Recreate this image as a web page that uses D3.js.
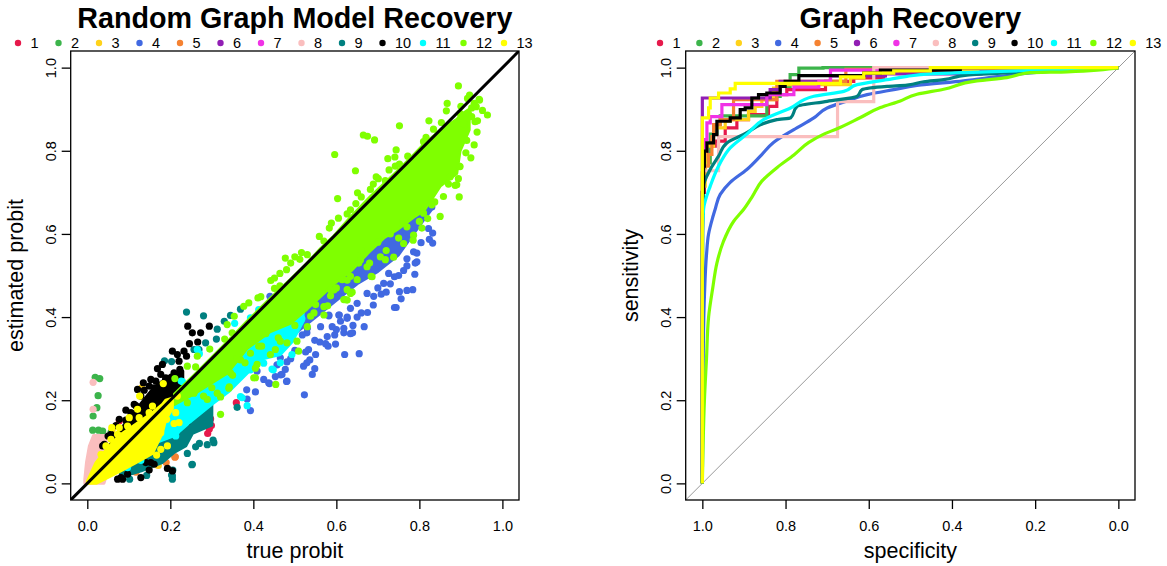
<!DOCTYPE html>
<html>
<head>
<meta charset="utf-8">
<script src="https://d3js.org/d3.v7.min.js"></script>
<style>
  body { margin: 0; background: #fff; }
  text { font-family: "Liberation Sans", Arial, sans-serif; fill: #000; }
</style>
</head>
<body>
<script>
// legend
var labels = ["1","2","3","4","5","6","7","8","9","10","11","12","13"];
var colors = ["#E6194B","#3CB44B","#FFD21A","#4169E1","#F58231","#911EB4","#F032E6","#FABEBE","#008080","#000000","#00FFFF","#7FFF00","#FFFF00"];
var ticks = [0, 0.2, 0.4, 0.6, 0.8, 1.0];

// scatter: [true, estimated]
var pts1 = [[.359,.194],[.297,.155],[.299,.139],[.294,.131],[.077,.15],[.16,.05],[.29,.12]];
var pts2 = [[.019,.255],[.03,.252],[.026,.211],[.023,.182],[.014,.162],[.013,.128],[.027,.128],[.037,.126],[.057,.122]];
var pts3 = [[.131,.23],[.171,.043],[.06,.13],[.145,.045]];
var pts4 = [[.83,.665],[.832,.602],[.822,.613],[.832,.578],[.824,.587],[.804,.579],[.794,.554],[.786,.557],[.794,.533],[.79,.53],[.77,.523],[.762,.512],[.789,.503],[.74,.497],[.752,.461],[.77,.464],[.784,.466],[.756,.444],[.744,.423],[.74,.423],[.708,.455],[.689,.429],[.675,.411],[.626,.4],[.606,.405],[.582,.403],[.726,.505],[.714,.481],[.674,.457],[.65,.433],[.634,.421],[.521,.282],[.529,.29],[.523,.213],[.481,.246],[.437,.242],[.425,.25],[.393,.175],[.385,.203],[.409,.27],[.465,.302],[.533,.322],[.529,.362],[.509,.394],[.62,.31],[.667,.377],[.639,.362],[.596,.357],[.536,.297],[.466,.261],[.58,.33],[.6,.37],[.56,.34],[.48,.245],[.439,.24],[.405,.22],[.384,.225],[.453,.257],[.469,.262],[.481,.292],[.542,.262],[.548,.276],[.526,.316],[.548,.344],[.574,.336],[.598,.335],[.578,.353],[.59,.377],[.562,.377],[.618,.362],[.634,.36],[.618,.373],[.655,.312],[.607,.405],[.626,.397],[.65,.4],[.582,.405],[.44,.45],[.518,.357],[.53,.373],[.477,.274],[.457,.285],[.64,.38],[.66,.41],[.69,.45],[.7,.47],[.72,.46],[.73,.48],[.75,.5],[.77,.54],[.61,.39],[.5,.32],[.49,.3],[.55,.31]];
var pts5 = [[.211,.063],[.117,.027],[.19,.05],[.212,.064]];
var pts8 = [[.014,.243],[.014,.178]];
var pts9 = [[.252,.045],[.206,.032],[.203,.02],[.205,.01],[.143,.019],[.102,.01],[.241,.072],[.261,.088],[.27,.096],[.289,.093],[.303,.104],[.305,.098],[.239,.412],[.28,.403],[.313,.371],[.345,.404],[.369,.419],[.285,.338],[.311,.347],[.186,.295],[.203,.293],[.269,.322],[.361,.183],[.257,.322],[.33,.39],[.205,.018],[.253,.046],[.097,.022]];
var pts10 = [[.242,.378],[.294,.378],[.253,.362],[.273,.362],[.246,.336],[.266,.34],[.205,.318],[.217,.31],[.233,.318],[.239,.306],[.221,.294],[.181,.286],[.169,.276],[.223,.274],[.209,.266],[.135,.242],[.153,.25],[.177,.262],[.189,.254],[.137,.224],[.161,.23],[.177,.222],[.193,.238],[.153,.206],[.185,.206],[.093,.176],[.117,.187],[.153,.186],[.169,.174],[.129,.166],[.069,.139],[.093,.152],[.05,.114],[.037,.09],[.141,.05],[.153,.05],[.193,.036],[.129,.014],[.081,.014],[.097,.022],[.149,.032],[.241,.148],[.073,.01],[.121,.226],[.129,.21],[.149,.234],[.165,.246],[.113,.19],[.105,.17],[.077,.154],[.041,.094],[.057,.118],[.189,.25],[.205,.25],[.173,.218],[.085,.01],[.205,.03],[.161,.046]];
var pts11 = [[.385,.187],[.373,.206],[.445,.275],[.213,.114],[.215,.126],[.27,.312],[.226,.246],[.393,.398],[.129,.055],[.097,.038],[.449,.358],[.517,.396],[.355,.385],[.265,.322],[.229,.245],[.413,.418],[.369,.209],[.448,.273],[.465,.29],[.493,.31],[.425,.289],[.393,.273]];
var pts12 = [[.894,.956],[.921,.934],[.916,.926],[.944,.924],[.932,.914],[.867,.914],[.9,.907],[.865,.896],[.952,.897],[.964,.886],[.926,.903],[.823,.872],[.752,.86],[.853,.868],[.94,.872],[.834,.852],[.939,.845],[.665,.838],[.675,.835],[.692,.826],[.816,.832],[.81,.822],[.596,.791],[.744,.802],[.724,.781],[.741,.785],[.772,.787],[.924,.783],[.932,.814],[.912,.795],[.896,.763],[.646,.752],[.727,.754],[.742,.763],[.752,.768],[.696,.737],[.701,.733],[.718,.728],[.689,.72],[.682,.707],[.651,.699],[.66,.689],[.603,.685],[.896,.689],[.647,.673],[.634,.658],[.626,.648],[.605,.638],[.85,.642],[.588,.626],[.583,.614],[.559,.594],[.57,.583],[.516,.555],[.5,.545],[.53,.55],[.477,.542],[.512,.539],[.49,.53],[.48,.514],[.464,.505],[.451,.494],[.442,.488],[.451,.469],[.464,.475],[.418,.449],[.411,.446],[.89,.718],[.858,.69],[.837,.677],[.806,.614],[.786,.597],[.785,.585],[.738,.544],[.718,.538],[.684,.498],[.626,.466],[.586,.466],[.586,.451],[.622,.442],[.579,.427],[.538,.402],[.454,.238],[.509,.318],[.505,.342],[.465,.342],[.481,.338],[.409,.286],[.401,.254],[.342,.232],[.321,.166],[.321,.208],[.289,.202],[.241,.194],[.265,.306],[.241,.282],[.261,.28],[.211,.252],[.295,.323],[.331,.347],[.349,.362],[.337,.382],[.354,.402],[.377,.426],[.389,.434],
  [.914,.825],[.918,.89],[.934,.87],[.945,.922],[.937,.906],[.926,.882],[.906,.865],[.898,.89],[.898,.762],[.894,.733],[.886,.717],[.82,.637],[.874,.737],
  [.413,.33],[.441,.31],[.453,.322],[.53,.377],[.546,.41],[.57,.425],[.393,.313],[.369,.297],[.345,.266],[.405,.277],[.405,.254],[.341,.229],[.313,.217],[.257,.217],[.618,.442],[.634,.498],[.614,.49],[.638,.46],[.594,.465],[.686,.497],[.706,.545],[.762,.577],[.77,.617],[.81,.65],[.674,.521],[.658,.537],[.626,.489],[.634,.457],[.626,.441],[.654,.53],[.57,.405],[.36,.3],[.43,.36],[.38,.33],[.73,.6],[.7,.58],[.76,.63],[.66,.56],
  [.28,.21],[.3,.23],[.35,.26],[.38,.29],[.42,.33],[.46,.35],[.5,.38],[.55,.43],[.6,.47],[.65,.49],[.68,.53],[.72,.56],[.75,.59],[.8,.63],[.83,.67],[.87,.72]];
var pts13 = [[.183,.24],[.126,.21],[.121,.178],[.101,.158],[.125,.158],[.149,.17],[.157,.186],[.059,.134],[.077,.134],[.097,.138],[.073,.118],[.033,.07],[.045,.09],[.057,.106],[.217,.21],[.213,.17],[.191,.154],[.209,.144],[.221,.146],[.177,.082],[.167,.068],[.193,.09],[.177,.122]];

// solid part of each cloud, too dense to read single points: [true, lower, upper]
var band4 = [[.40,.29,.38],[.45,.32,.44],[.5,.36,.48],[.55,.4,.52],[.6,.44,.56],[.65,.48,.6],[.7,.51,.64],[.75,.55,.66],[.8,.62,.7],[.83,.66,.72]];
var band8 = [[-.006,0,.01],[-.002,0,.05],[.005,0,.09],[.015,0,.115],[.04,0,.115],[.05,.03,.09]];
var band9 = [[.08,.015,.05],[.13,.03,.09],[.18,.05,.14],[.21,.075,.18],[.237,.09,.2],[.253,.12,.2],[.3,.14,.24]];
var band10 = [[.04,.04,.07],[.08,.08,.13],[.12,.12,.18],[.16,.16,.23],[.2,.2,.26],[.23,.23,.27]];
var band11 = [[.17,.10,.16],[.21,.115,.2],[.25,.15,.25],[.3,.19,.3],[.34,.22,.34],[.39,.27,.37],[.425,.3,.41],[.465,.31,.45],[.493,.34,.47],[.52,.39,.48]];
var band12 = [[.21,.19,.215],[.257,.215,.26],[.337,.265,.34],[.385,.325,.39],[.441,.365,.445],[.489,.385,.49],[.53,.42,.53],[.562,.45,.565],[.594,.48,.595],[.634,.51,.64],[.682,.56,.69],[.714,.59,.72],[.746,.61,.75],[.786,.64,.79],[.81,.655,.815],[.834,.69,.835],[.85,.715,.85],[.89,.745,.875],[.898,.8,.885],[.92,.85,.9]];
var band13 = [[0,0,.005],[.021,0,.05],[.045,.012,.08],[.077,.028,.115],[.117,.05,.142],[.157,.072,.17],[.181,.122,.19],[.189,.154,.2],[.205,.18,.205]];

// ROC: [specificity, sensitivity]
var roc1 = [[1,0],[.995,.7],[.989,.77],[.969,.811],[.945,.823],[.917,.855],[.889,.875],[.841,.887],[.821,.907],[.797,.935],[.704,.947],[.636,.967],[.564,.975],[.4,.99],[0,1]];
var roc2 = [[1,0],[.998,.65],[.993,.731],[.981,.771],[.965,.84],[.957,.863],[.845,.884],[.813,.931],[.789,.955],[.768,.983],[.71,.999],[0,1]];
var roc3 = [[1,0],[.998,.65],[.993,.715],[.973,.811],[.945,.855],[.933,.871],[.889,.875],[.873,.895],[.857,.907],[.829,.923],[.813,.951],[.644,.959],[.612,.975],[.532,.987],[.3,.995],[0,1]];
var roc4 = [[1,0],[.998,.3],[.995,.45],[.99,.55],[.985,.6],[.975,.64],[.969,.66],[.957,.695],[.933,.724],[.893,.755],[.857,.791],[.829,.82],[.78,.851],[.732,.879],[.7,.903],[.652,.92],[.604,.935],[.54,.947],[.484,.957],[.372,.968],[.284,.979],[.204,.988],[0,1]];
var roc5 = [[1,0],[.997,.747],[.985,.763],[.977,.791],[.973,.834],[.957,.863],[.925,.875],[.925,.923],[.821,.923],[.813,.967],[.655,.967],[.572,.996],[0,1]];
var roc6 = [[1,0],[1,.855],[.997,.927],[.837,.927],[.813,.947],[.813,.967],[.692,.967],[.56,.98],[.33,.985],[.2,.99],[0,1]];
var roc7 = [[1,0],[.997,.7],[.995,.763],[.989,.827],[.981,.867],[.953,.882],[.845,.911],[.78,.935],[.72,.953],[.692,.967],[.556,.994],[0,1]];
var roc8 = [[1,0],[.998,.7],[.993,.752],[.961,.752],[.961,.834],[.675,.834],[.675,.918],[.588,.918],[.588,.999],[0,1]];
var roc9 = [[1,0],[.999,.6],[.998,.66],[.997,.715],[.981,.755],[.961,.787],[.941,.819],[.901,.839],[.821,.875],[.788,.879],[.772,.907],[.7,.919],[.628,.931],[.616,.947],[.556,.955],[.508,.958],[.468,.966],[.42,.971],[.364,.982],[.204,.99],[0,1]];
var roc10 = [[1,0],[.997,.7],[.995,.763],[.989,.799],[.973,.819],[.965,.839],[.933,.871],[.909,.879],[.897,.899],[.881,.903],[.865,.927],[.845,.935],[.813,.939],[.801,.955],[.768,.967],[.752,.981],[.612,.981],[.572,.987],[.508,.994],[.38,.994],[0,1]];
var roc11 = [[1,0],[1,.6],[.997,.66],[.981,.715],[.957,.771],[.933,.807],[.893,.84],[.853,.875],[.788,.903],[.732,.931],[.66,.943],[.628,.959],[.556,.971],[.508,.979],[.452,.985],[.123,.996],[0,1]];
var roc12 = [[1,0],[.998,.1],[.995,.2],[.99,.3],[.985,.4],[.975,.47],[.965,.53],[.95,.58],[.925,.63],[.9,.66],[.88,.69],[.857,.727],[.82,.76],[.78,.79],[.744,.82],[.708,.84],[.676,.853],[.62,.88],[.572,.904],[.524,.92],[.484,.936],[.42,.948],[.34,.968],[.268,.976],[.212,.988],[.123,.99],[0,1]];
var roc13 = [[1,0],[1,.852],[.985,.879],[.981,.903],[.961,.927],[.933,.939],[.921,.949],[.841,.962],[.668,.962],[.612,.978],[.54,.987],[.452,.992],[0,1]];

var scatter = [
  {i: 0, pts: pts1}, {i: 1, pts: pts2}, {i: 2, pts: pts3},
  {i: 3, pts: pts4, band: band4}, {i: 4, pts: pts5},
  {i: 7, pts: pts8, band: band8}, {i: 8, pts: pts9, band: band9},
  {i: 9, pts: pts10, band: band10}, {i: 10, pts: pts11, band: band11},
  {i: 11, pts: pts12, band: band12}, {i: 12, pts: pts13, band: band13}
];
var rocs = [roc1, roc2, roc3, roc4, roc5, roc6, roc7, roc8, roc9, roc10, roc11, roc12, roc13];
// these four are fine enough to read as a smooth line
var smooth = [3, 8, 10, 11];

var svg = d3.select("body").append("svg")
    .attr("width", 1167)
    .attr("height", 566)
    .style("display", "block");

var top_ = 51, bottom = 500;

function panel(left, right, xDomain, opts) {
  var x = d3.scaleLinear().domain(xDomain).range([left, right]);
  var y = d3.scaleLinear().domain([-0.04, 1.04]).range([bottom, top_]);
  var g = svg.append("g");

  g.append("defs").append("clipPath").attr("id", opts.id)
    .append("rect").attr("x", left).attr("y", top_)
    .attr("width", right - left).attr("height", bottom - top_);

  var plot = g.append("g").attr("clip-path", "url(#" + opts.id + ")");

  // x axis
  var ax = g.append("g").attr("transform", "translate(0," + bottom + ")")
    .call(d3.axisBottom(x).tickValues(ticks).tickSize(9).tickPadding(12).tickFormat(d3.format(".1f")));
  ax.select(".domain").remove();
  ax.selectAll("text").attr("font-size", "14.5px").style("font-family", '"Liberation Sans"');
  ax.selectAll("line").attr("stroke-width", 1.3);

  // y axis, labels turned like R does
  var ay = g.append("g").attr("transform", "translate(" + left + ",0)")
    .call(d3.axisLeft(y).tickValues(ticks).tickSize(9).tickFormat(d3.format(".1f")));
  ay.select(".domain").remove();
  ay.selectAll("line").attr("stroke-width", 1.3);
  ay.selectAll("text")
    .attr("font-size", "14.5px").style("font-family", '"Liberation Sans"')
    .attr("x", null).attr("dy", null)
    .attr("transform", "translate(-20,0) rotate(-90)")
    .attr("text-anchor", "middle")
    .attr("y", 5);

  g.append("rect").attr("x", left).attr("y", top_)
    .attr("width", right - left).attr("height", bottom - top_)
    .attr("fill", "none").attr("stroke", "#000").attr("stroke-width", 1.3);

  g.append("text").attr("x", (left + right) / 2).attr("y", 28)
    .attr("text-anchor", "middle").attr("font-size", "28.7px").attr("font-weight", "bold")
    .text(opts.title);
  g.append("text").attr("x", (left + right) / 2).attr("y", 558)
    .attr("text-anchor", "middle").attr("font-size", "21.5px").text(opts.xlab);
  g.append("text").attr("transform", "translate(" + (left - 48) + "," + ((top_ + bottom) / 2) + ") rotate(-90)")
    .attr("text-anchor", "middle").attr("font-size", "21.5px").text(opts.ylab);

  // legend
  var leg = g.selectAll(".leg").data(labels).enter().append("g")
    .attr("transform", function(d, i) { return "translate(" + (opts.legX + i * opts.legStep) + ",43)"; });
  leg.append("circle").attr("r", 3.2).attr("fill", function(d, i) { return colors[i]; });
  leg.append("text").attr("x", 12.5).attr("y", 5).attr("font-size", "14.5px").text(function(d) { return d; });

  return {x: x, y: y, plot: plot};
}

// left panel
var a = panel(70.7, 519, [-0.04, 1.04], {id: "c1", title: "Random Graph Model Recovery", xlab: "true probit", ylab: "estimated probit", legX: 18, legStep: 40.5});

var band = d3.area()
    .x(function(d) { return a.x(d[0]); })
    .y0(function(d) { return a.y(d[1]); })
    .y1(function(d) { return a.y(d[2]); });

scatter.forEach(function(s) {
  if (s.band) {
    a.plot.append("path").datum(s.band)
      .attr("d", band).attr("fill", colors[s.i])
      .attr("stroke", colors[s.i]).attr("stroke-width", 3).attr("stroke-linejoin", "round");
  }
  a.plot.selectAll(null).data(s.pts).enter().append("circle")
    .attr("cx", function(d) { return a.x(d[0]); })
    .attr("cy", function(d) { return a.y(d[1]); })
    .attr("r", 3.6)
    .attr("fill", colors[s.i]);
});

a.plot.append("line")
  .attr("x1", a.x(-0.04)).attr("y1", a.y(-0.04))
  .attr("x2", a.x(1.04)).attr("y2", a.y(1.04))
  .attr("stroke", "#000").attr("stroke-width", 3);

// right panel
var b = panel(685.7, 1135, [1.04, -0.04], {id: "c2", title: "Graph Recovery", xlab: "specificity", ylab: "sensitivity", legX: 660, legStep: 39.4});

b.plot.append("line")
  .attr("x1", b.x(1.04)).attr("y1", b.y(-0.04))
  .attr("x2", b.x(-0.04)).attr("y2", b.y(1.04))
  .attr("stroke", "#999").attr("stroke-width", 1);

rocs.forEach(function(r, i) {
  var line = d3.line()
    .x(function(d) { return b.x(d[0]); })
    .y(function(d) { return b.y(d[1]); })
    .curve(smooth.indexOf(i) >= 0 ? d3.curveMonotoneY : d3.curveStepBefore);
  b.plot.append("path").datum(r)
    .attr("d", line).attr("fill", "none")
    .attr("stroke", colors[i]).attr("stroke-width", 3.2);
});
</script>
</body>
</html>
